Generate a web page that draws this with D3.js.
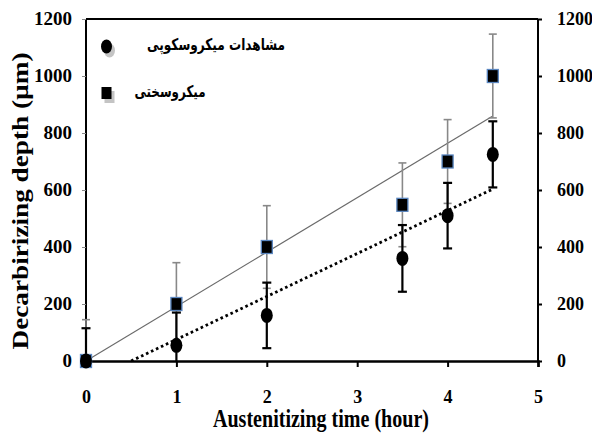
<!DOCTYPE html>
<html><head><meta charset="utf-8">
<script src="https://cdn.jsdelivr.net/npm/d3@7"></script>
<style>body{margin:0;background:#fff}svg{display:block}</style>
</head><body>
<svg id="c" width="592" height="437"></svg>
<script>
const times = [0, 1, 2, 3.5, 4, 4.5];
const microhardness = [0, 200, 400, 548, 700, 1000];
const microhardnessErr = [145, 145, 145, 147, 147, 147];
const microscopy = [0, 55, 160, 360, 510, 725];
const microscopyErr = [115, 115, 115, 117, 115, 116];
const xTicks = [0, 1, 2, 3, 4, 5];
const yTicks = [0, 200, 400, 600, 800, 1000, 1200];
const legendLabels = ["مشاهدات میکروسکوپی", "میکروسختی"];

const svg = d3.select("#c");
const x = d3.scaleLinear().domain([0, 5]).range([86, 538]);
const y = d3.scaleLinear().domain([0, 1200]).range([361, 19]);
const serif = "'Liberation Serif','Times New Roman',serif";

// trendlines from data
const sxy = d3.sum(times, (t, i) => t * microhardness[i]);
const sxx = d3.sum(times, t => t * t);
const slopeH = sxy / sxx;
const mx = d3.mean(times), my = d3.mean(microscopy);
const slopeM = d3.sum(times, (t, i) => (t - mx) * (microscopy[i] - my)) / d3.sum(times, t => (t - mx) * (t - mx));
const intM = my - slopeM * mx;
const x0M = -intM / slopeM;
const xEnd = d3.max(times);

svg.append("line").attr("x1", x(0)).attr("y1", y(0)).attr("x2", x(xEnd)).attr("y2", y(slopeH * xEnd))
  .attr("stroke", "#6a6a6a").attr("stroke-width", 1.2);
svg.append("line").attr("x1", x(x0M)).attr("y1", y(0)).attr("x2", x(xEnd)).attr("y2", y(intM + slopeM * xEnd))
  .attr("stroke", "#000").attr("stroke-width", 2.8).attr("stroke-dasharray", "2.6,2.9");

// axes
const frame = svg.append("g");
frame.append("line").attr("x1", x(0)).attr("x2", x(5)).attr("y1", y(1200)).attr("y2", y(1200)).attr("stroke", "#000").attr("stroke-width", 2);
frame.append("line").attr("x1", x(0)).attr("x2", x(0)).attr("y1", y(0)).attr("y2", y(1200)).attr("stroke", "#000").attr("stroke-width", 2);
frame.append("line").attr("x1", x(5)).attr("x2", x(5)).attr("y1", y(0)).attr("y2", y(1200)).attr("stroke", "#000").attr("stroke-width", 2);

const gl = svg.append("g").attr("transform", `translate(${x(0)},0)`)
  .call(d3.axisLeft(y).tickValues(yTicks).tickSize(4).tickPadding(10).tickFormat(d3.format("d")));
gl.select(".domain").remove();
gl.selectAll(".tick line").attr("stroke", "#888").attr("stroke-width", 1);
gl.selectAll(".tick text").attr("font-family", serif).attr("font-weight", "bold").attr("font-size", 18).attr("fill", "#000")
  .attr("textLength", d => String(d).length * 9.5).attr("lengthAdjust", "spacingAndGlyphs");

const gr = svg.append("g").attr("transform", `translate(${x(5)},0)`)
  .call(d3.axisRight(y).tickValues(yTicks).tickSize(4).tickPadding(15).tickFormat(d3.format("d")));
gr.select(".domain").remove();
gr.selectAll(".tick line").attr("stroke", "#000").attr("stroke-width", 2);
gr.selectAll(".tick text").attr("font-family", serif).attr("font-weight", "bold").attr("font-size", 18).attr("fill", "#000")
  .attr("textLength", d => String(d).length * 9).attr("lengthAdjust", "spacingAndGlyphs");

const gb = svg.append("g").attr("transform", `translate(0,${y(0)})`)
  .call(d3.axisBottom(x).tickValues(xTicks).tickSize(6).tickPadding(23).tickFormat(d3.format("d")));
gb.select(".domain").attr("stroke", "#000").attr("stroke-width", 2.5);
gb.selectAll(".tick line").attr("stroke", "#000").attr("stroke-width", 2).attr("opacity", d => d === 0 ? 0 : 1);
gb.selectAll(".tick text").attr("font-family", serif).attr("font-weight", "bold").attr("font-size", 18).attr("fill", "#000");

// titles
svg.append("text").attr("x", 321).attr("y", 427).attr("text-anchor", "middle")
  .attr("font-family", serif).attr("font-weight", "bold").attr("font-size", 25)
  .attr("textLength", 216).attr("lengthAdjust", "spacingAndGlyphs").text("Austenitizing time (hour)");
svg.append("text").attr("transform", "translate(28,201) rotate(-90)").attr("text-anchor", "middle")
  .attr("font-family", serif).attr("font-weight", "bold").attr("font-size", 23)
  .attr("textLength", 297).attr("lengthAdjust", "spacingAndGlyphs").text("Decarbirizing depth (µm)");

// error bars
function errBars(vals, errs, color, w, cap) {
  const g = svg.append("g").attr("stroke", color).attr("stroke-width", w);
  times.forEach((t, i) => {
    const cx = x(t), lo = y(Math.max(0, vals[i] - errs[i])), hi = y(vals[i] + errs[i]);
    g.append("line").attr("x1", cx).attr("x2", cx).attr("y1", lo).attr("y2", hi);
    g.append("line").attr("x1", cx - cap).attr("x2", cx + cap).attr("y1", hi).attr("y2", hi);
    if (vals[i] - errs[i] > 0) g.append("line").attr("x1", cx - cap).attr("x2", cx + cap).attr("y1", lo).attr("y2", lo);
  });
}
errBars(microhardness, microhardnessErr, "#888", 1.6, 4);
errBars(microscopy, microscopyErr, "#000", 2.2, 4.5);

// markers
svg.append("g").selectAll("rect").data(times).join("rect")
  .attr("x", (d) => x(d) - 5.5).attr("y", (d, i) => y(microhardness[i]) - 6.5)
  .attr("width", 11).attr("height", 13).attr("fill", "#000").attr("stroke", "#5a86c0").attr("stroke-width", 1.3);
svg.append("g").selectAll("ellipse").data(times).join("ellipse")
  .attr("cx", d => x(d)).attr("cy", (d, i) => y(microscopy[i]))
  .attr("rx", 6).attr("ry", 7.5).attr("fill", "#000");

// legend
const lg = svg.append("g");
lg.append("ellipse").attr("cx", 109.5).attr("cy", 50.5).attr("rx", 5.5).attr("ry", 7).attr("fill", "#c4c4c4");
lg.append("ellipse").attr("cx", 106.5).attr("cy", 46.5).attr("rx", 5.5).attr("ry", 7).attr("fill", "#000");
lg.append("rect").attr("x", 104.5).attr("y", 91).attr("width", 10).attr("height", 12).attr("fill", "#c4c4c4");
lg.append("rect").attr("x", 101.5).attr("y", 87).attr("width", 10).attr("height", 12).attr("fill", "#000");
lg.append("text").attr("x", 216).attr("y", 50).attr("text-anchor", "middle")
  .attr("font-family", "'DejaVu Sans',sans-serif").attr("font-weight", "bold").attr("font-size", 16)
  .attr("textLength", 138).attr("lengthAdjust", "spacingAndGlyphs").text(legendLabels[0]);
lg.append("text").attr("x", 170).attr("y", 97).attr("text-anchor", "middle")
  .attr("font-family", "'DejaVu Sans',sans-serif").attr("font-weight", "bold").attr("font-size", 16)
  .attr("textLength", 71).attr("lengthAdjust", "spacingAndGlyphs").text(legendLabels[1]);
</script>
</body></html>
